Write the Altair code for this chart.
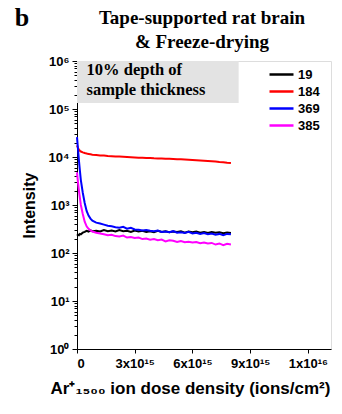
import altair as alt
import pandas as pd

# ---- data (dose in ions/cm2, intensity in counts) ----
dose_e15 = [0, 0.05, 0.1, 0.15, 0.2, 0.3, 0.4, 0.5, 0.6, 0.7, 0.8,
            1.0, 1.2, 1.4, 1.6, 1.8, 2.0, 2.2, 2.4, 2.6, 2.8, 3.0, 3.2, 3.4, 3.6, 3.8,
            4.0, 4.2, 4.4, 4.6, 4.8, 5.0, 5.2, 5.4, 5.6, 5.8, 6.0, 6.2, 6.4, 6.6, 6.8,
            7.0, 7.2, 7.4, 7.6, 7.8, 8.0]

s19 = [230, 240, 235, 250, 245, 265, 275, 290, 280, 295, 285,
       290, 280, 300, 285, 295, 280, 300, 285, 290, 275, 295, 280, 290, 275, 285,
       270, 290, 275, 285, 270, 280, 275, 285, 265, 280, 270, 280, 265, 275, 260,
       275, 265, 270, 258, 268, 262]

s184 = [17500, 15500, 14200, 13500, 13000, 12500, 12100, 11800, 11600, 11400, 11200,
        11000, 10800, 10700, 10500, 10400, 10300, 10200, 10100, 10000, 9900, 9800, 9700, 9650, 9550, 9500,
        9400, 9350, 9300, 9200, 9150, 9100, 9000, 8950, 8900, 8800, 8700, 8600, 8500, 8400, 8300,
        8200, 8100, 7900, 7800, 7600, 7500]

s369 = [26000, 15000, 8500, 5200, 3300, 1800, 1100, 750, 600, 520, 470,
        430, 410, 390, 370, 360, 345, 335, 350, 320, 335, 310, 305, 295, 300, 290,
        285, 295, 275, 280, 270, 285, 265, 270, 260, 275, 255, 265, 250, 260, 245,
        255, 240, 250, 235, 250, 245]

s385 = [4800, 3000, 2000, 1400, 1000, 650, 450, 360, 320, 295, 280,
        265, 255, 245, 235, 240, 225, 220, 230, 210, 215, 205, 210, 195, 200, 190,
        195, 185, 190, 175, 185, 180, 170, 178, 168, 172, 165, 170, 160, 165, 158,
        162, 150, 158, 145, 155, 150]

series_names = ["19", "184", "369", "385"]
series_values = [s19, s184, s369, s385]
series_colors = ["#000000", "#ff0000", "#0000ff", "#ff00ff"]

x_tick_values = [0, 1.5e15, 3e15, 4.5e15, 6e15, 7.5e15, 9e15, 10.5e15, 12e15]
x_tick_labels = ["0", "", "3x10¹⁵", "", "6x10¹⁵", "", "9x10¹⁵", "", "1x10¹⁶"]
y_tick_values = [m * 10 ** k for k in range(6) for m in range(1, 10)] + [10 ** 6]
y_sup = ["⁰", "¹", "²", "³", "⁴", "⁵", "⁶"]

title_lines = ["Tape-supported rat brain", "& Freeze-drying"]
panel_letter = "b"

box_x = [0]
box_x2 = [8.4e15]
box_y = [1.33e5]
box_y2 = [1e6]
box_text = ["10% depth of", "sample thickness"]

rows = []
for name, vals in zip(series_names, series_values):
    for d, v in zip(dose_e15, vals):
        rows.append({"dose": d * 1e15, "intensity": v, "series": name})
df = pd.DataFrame(rows)

xscale = alt.Scale(domain=[0, 13.2e15], nice=False, zero=False)
yscale = alt.Scale(type="log", domain=[1, 1e6], nice=False)

xlab_expr = "[" + ",".join("'%s'" % s for s in x_tick_labels) + "][round(datum.value/1.5e15)]"
sup_arr = "[" + ",".join("'%s'" % s for s in y_sup) + "]"
dec_test = "abs(log(datum.value)/LN10 - round(log(datum.value)/LN10)) < 0.001"
ylab_expr = f"({dec_test}) ? '10' + {sup_arr}[round(log(datum.value)/LN10)] : ''"

x_axis = alt.Axis(
    values=x_tick_values, labelExpr=xlab_expr, labelOverlap=False,
    title="Ar⁺₁₅₀₀ ion dose density (ions/cm²)",
    titleFont="Liberation Sans", titleFontSize=17, titleFontWeight="bold",
    titlePadding=10, titleColor="black", titleX=113,
    labelFont="Liberation Sans", labelFontSize=13, labelFontWeight="bold",
    labelColor="black", labelPadding=4,
    tickSize={"condition": {"test": "round(datum.value/1.5e15) % 2 == 0", "value": 4}, "value": 3},
    tickColor="black", domainColor="black", grid=False,
)
y_axis = alt.Axis(
    values=y_tick_values, labelExpr=ylab_expr, labelOverlap=False,
    title="Intensity",
    titleFont="Liberation Sans", titleFontSize=16, titleFontWeight="bold",
    titlePadding=11, titleColor="black",
    labelFont="Liberation Sans", labelFontSize=13, labelFontWeight="bold",
    labelColor="black", labelPadding=3,
    tickSize={"condition": {"test": dec_test, "value": 5}, "value": 3},
    tickColor="black", domainColor="black", grid=False,
)

box_df = pd.DataFrame({"x": box_x, "x2": box_x2, "y": box_y, "y2": box_y2})
box = alt.Chart(box_df).mark_rect(color="#e3e3e3").encode(
    x=alt.X("x:Q", scale=xscale, axis=x_axis),
    x2="x2:Q",
    y=alt.Y("y:Q", scale=yscale, axis=y_axis),
    y2="y2:Q",
)

txt_df = pd.DataFrame({"x": [0.5e15], "y": [1e6], "t": ["\n".join(box_text)]})
box_txt = alt.Chart(txt_df).mark_text(
    align="left", baseline="top", dy=1, lineBreak="\n", lineHeight=20,
    font="Liberation Serif", fontSize=16.5, fontWeight="bold", color="black",
).encode(
    x=alt.X("x:Q", scale=xscale),
    y=alt.Y("y:Q", scale=yscale),
    text="t:N",
)

lines = alt.Chart(df).mark_line(strokeWidth=2).encode(
    x=alt.X("dose:Q", scale=xscale),
    y=alt.Y("intensity:Q", scale=yscale),
    color=alt.Color(
        "series:N",
        scale=alt.Scale(domain=series_names, range=series_colors),
        legend=alt.Legend(
            title=None, orient="none", legendX=197, legendY=6,
            symbolType="M-2,0H2", symbolSize=144, symbolStrokeWidth=2.5,
            labelFont="Liberation Sans", labelFontSize=13, labelFontWeight="bold",
            labelColor="black", rowPadding=2, labelOffset=9,
        ),
    ),
    order="dose:Q",
)

letter = alt.Chart(pd.DataFrame({"t": [panel_letter]})).mark_text(
    font="Liberation Serif", fontSize=26, fontWeight="bold", color="black",
    align="center", baseline="middle",
).encode(x=alt.value(-55), y=alt.value(-43), text="t:N")

title_txt = alt.Chart(pd.DataFrame({"t": ["\n".join(title_lines)]})).mark_text(
    font="Liberation Serif", fontSize=19, fontWeight="bold", color="black",
    align="center", baseline="middle", lineBreak="\n", lineHeight=24,
).encode(x=alt.value(125), y=alt.value(-43), text="t:N")

chart = alt.layer(box, box_txt, lines, letter, title_txt).properties(
    width=254, height=288,
    padding={"left": 77, "top": 61, "right": 11, "bottom": 65},
    autosize=alt.AutoSizeParams(type="none"),
).configure_view(stroke="#999999", strokeWidth=1).configure(background="white")

chart.save("out.html", embed_options={"renderer": "svg", "actions": False})
